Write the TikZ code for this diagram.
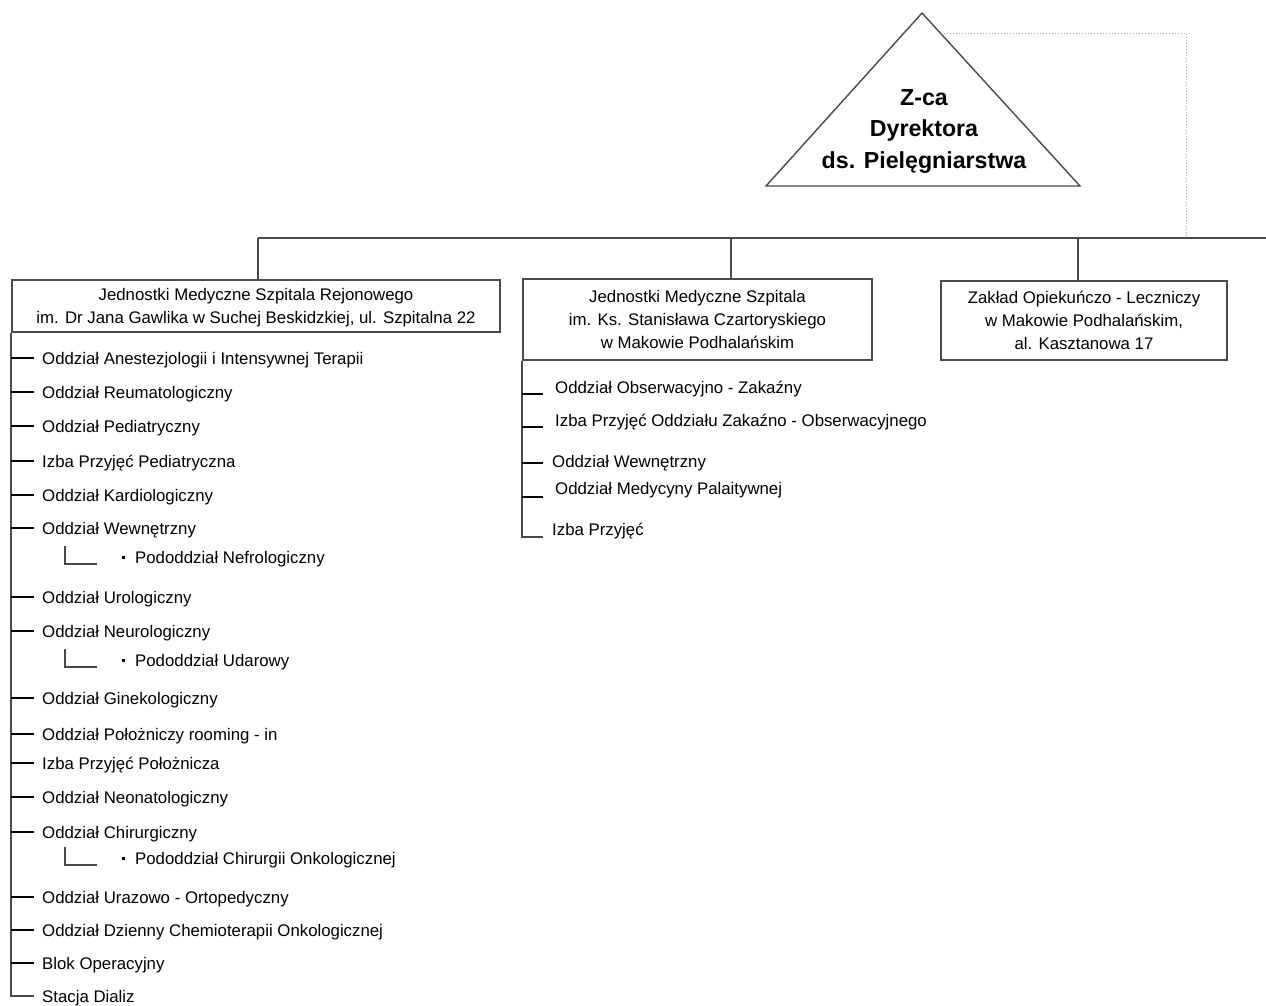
\documentclass[tikz,border=0pt]{standalone}
\usepackage{fontspec}
\setmainfont{Liberation Sans}
\usetikzlibrary{positioning}

\definecolor{linegray}{HTML}{4A4A4A}
\definecolor{dotgray}{HTML}{A8A8A8}

\tikzset{
  unitbox/.style={draw=linegray, line width=1.6pt, align=center, inner sep=0pt,
    font=\fontsize{16.8}{23}\selectfont},
  dept/.style={anchor=west, inner sep=0pt, text height=12pt, text depth=0pt,
    font=\fontsize{16.8}{19}\selectfont},
  bullet/.style={fill=black, inner sep=0pt, minimum size=3pt},
  spine/.style={draw=linegray, line width=1.8pt},
  tick/.style={line width=1.3pt},
  subline/.style={draw=linegray, line width=1.5pt},
}

\begin{document}
\begin{tikzpicture}[x=1pt, y=-1pt]

\useasboundingbox (0,0) rectangle (1266,1005);

% director triangle
\coordinate (apex) at (922,13);
\coordinate (baseL) at (766,186);
\coordinate (baseR) at (1080,186);
\draw[draw=linegray, line width=1.4pt, line join=miter] (apex) -- (baseL) -- (baseR) -- cycle;
\node[align=center, font=\fontsize{23.2}{31.5}\selectfont\bfseries] (zca) at (924,131)
  {Z-ca\\Dyrektora\\ds. Pielęgniarstwa};

% bus
\coordinate (busA) at (258,238);
\coordinate (busB) at (731,238);
\coordinate (busC) at (1078,238);
\coordinate (busD) at (1186,238);
\coordinate (busEnd) at (1266,238);
\coordinate (dotS) at (941,33);
\coordinate (dotC) at (1186,33);
\draw[draw=dotgray, line width=1pt, dotted] (dotS) -- (dotC) -- (busD);
\draw[spine] (busA) -- (busEnd);

% units
\node[unitbox, minimum width=488pt, minimum height=52pt, text depth=-4pt] (lbox) at (256,306)
  {Jednostki Medyczne Szpitala Rejonowego\\im. Dr Jana Gawlika w Suchej Beskidzkiej, ul. Szpitalna 22};
\node[unitbox, minimum width=349pt, minimum height=81pt] (mbox) at (697.5,319.5)
  {Jednostki Medyczne Szpitala\\im. Ks. Stanisława Czartoryskiego\\w Makowie Podhalańskim};
\node[unitbox, minimum width=286pt, minimum height=79pt] (rbox) at (1084,320.5)
  {Zakład Opiekuńczo - Leczniczy\\w Makowie Podhalańskim,\\al. Kasztanowa 17};

\draw[spine] (busA) -- (busA |- lbox.north);
\draw[spine] (busB) -- (busB |- mbox.north);
\draw[spine] (busC) -- (busC |- rbox.north);

% left list
\node[dept] (l1) at (42,358) {Oddział Anestezjologii i Intensywnej Terapii};
\node[dept] (l2) at (42,392) {Oddział Reumatologiczny};
\node[dept] (l3) at (42,426) {Oddział Pediatryczny};
\node[dept] (l4) at (42,461) {Izba Przyjęć Pediatryczna};
\node[dept] (l5) at (42,495) {Oddział Kardiologiczny};
\node[dept] (l6) at (42,528) {Oddział Wewnętrzny};
\node[dept] (l7) at (42,597) {Oddział Urologiczny};
\node[dept] (l8) at (42,631) {Oddział Neurologiczny};
\node[dept] (l9) at (42,698) {Oddział Ginekologiczny};
\node[dept] (l10) at (42,734) {Oddział Położniczy rooming - in};
\node[dept] (l11) at (42,763) {Izba Przyjęć Położnicza};
\node[dept] (l12) at (42,797) {Oddział Neonatologiczny};
\node[dept] (l13) at (42,832) {Oddział Chirurgiczny};
\node[dept] (l14) at (42,897) {Oddział Urazowo - Ortopedyczny};
\node[dept] (l15) at (42,930) {Oddział Dzienny Chemioterapii Onkologicznej};
\node[dept] (l16) at (42,963) {Blok Operacyjny};
\node[dept] (l17) at (42,996) {Stacja Dializ};

\draw[spine] (lbox.south west) |- ([xshift=-8pt]l17.west);
\foreach \i in {1,...,16}
  \draw[tick] (l\i.west -| lbox.west) -- ([xshift=-8pt]l\i.west);

% sub units
\node[dept] (n1) at (135,557) {Pododdział Nefrologiczny};
\node[dept] (n2) at (135,660) {Pododdział Udarowy};
\node[dept] (n3) at (135,858) {Pododdział Chirurgii Onkologicznej};
\node[bullet, left=10pt of n1] (b1) {};
\node[bullet, left=10pt of n2] (b2) {};
\node[bullet, left=10pt of n3] (b3) {};
\foreach \i in {1,2,3}
  \draw[subline] ([shift={(-70,-11)}]n\i.west) |- ([shift={(-38,7)}]n\i.west);

% middle list
\node[dept] (m1) at (555,387) {Oddział Obserwacyjno - Zakaźny};
\node[dept] (m2) at (555,420) {Izba Przyjęć Oddziału Zakaźno - Obserwacyjnego};
\node[dept] (m3) at (552,461) {Oddział Wewnętrzny};
\node[dept] (m4) at (555,488) {Oddział Medycyny Palaitywnej};
\node[dept] (m5) at (552,529) {Izba Przyjęć};

\coordinate (t1) at (543,394);
\coordinate (t2) at (543,427);
\coordinate (t3) at (543,463);
\coordinate (t4) at (543,497);
\coordinate (t5) at (543,537);

\draw[spine] (mbox.south west) |- (t5);
\foreach \i in {1,...,4}
  \draw[tick] (t\i -| mbox.west) -- (t\i);

\end{tikzpicture}
\end{document}
